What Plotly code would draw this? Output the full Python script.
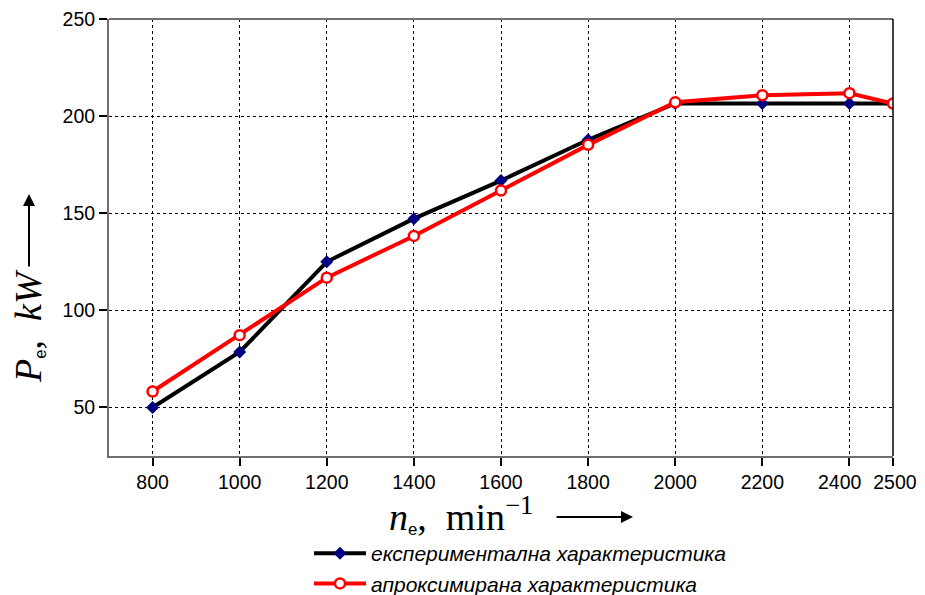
import plotly.graph_objects as go

n_rpm = [800, 1000, 1200, 1400, 1600, 1800, 2000, 2200, 2400, 2500]
p_exp = [50, 78.6, 125, 147.2, 166.8, 187.8, 206.5, 206.5, 206.5, 206.5]
p_apr = [58.2, 87.2, 116.8, 138.3, 161.7, 185.2, 207.1, 210.8, 211.8, 206.5]
x_ticks = [800, 1000, 1200, 1400, 1600, 1800, 2000, 2200, 2400, 2500]
y_ticks = [50, 100, 150, 200, 250]
names = ["експериментална характеристика", "апроксимирана характеристика"]

# page offset (browser body margin)
OFF = 8
# target plot area in screen pixels
L, R, T, B = 109, 893, 19, 456
W, H = 925 - OFF, 595 - OFF

def px(x):
    return (x - L) / (R - L)

def py(y):
    return (B - y) / (B - T)

# last two tick labels nudged apart (as in the reference) via padding spaces
x_ticktext = [str(v) for v in x_ticks]
x_ticktext[-2] = x_ticktext[-2] + "\u2003"
x_ticktext[-1] = "\u2009" + x_ticktext[-1]

fig = go.Figure()
fig.add_trace(go.Scatter(
    x=n_rpm, y=p_exp, name=names[0], mode="lines+markers",
    line=dict(color="black", width=4),
    marker=dict(symbol="diamond", size=10, color="#000080", line=dict(width=0)),
))
fig.add_trace(go.Scatter(
    x=n_rpm, y=p_apr, name=names[1], mode="lines+markers",
    line=dict(color="#ff0000", width=4),
    marker=dict(symbol="circle", size=10, color="white", line=dict(width=2.5, color="#ff0000")),
))

tickfont = dict(family="Arial, Liberation Sans, sans-serif", size=19.5, color="black")
fig.update_xaxes(
    range=[700, 2500], tickvals=x_ticks, ticktext=x_ticktext,
    tickangle=0, ticklabeloverflow="allow",
    showgrid=True, gridcolor="black", griddash="dot", gridwidth=1,
    showline=True, linecolor="#707070", linewidth=2,
    ticks="outside", ticklen=8, tickwidth=2, tickcolor="black",
    tickfont=tickfont, zeroline=False,
)
fig.update_yaxes(
    range=[25, 250], tickvals=y_ticks, ticklabeloverflow="allow",
    showgrid=True, gridcolor="black", griddash="dot", gridwidth=1,
    showline=True, linecolor="#707070", linewidth=2,
    ticks="outside", ticklen=8, tickwidth=2, tickcolor="black",
    tickfont=tickfont, zeroline=False,
)

# frame: top gray, right black
fig.add_shape(type="line", xref="paper", yref="paper", x0=0, x1=1, y0=1, y1=1,
              line=dict(color="#707070", width=2))
fig.add_shape(type="line", xref="paper", yref="paper", x0=1, x1=1, y0=0, y1=1,
              line=dict(color="black", width=1.5))

serif = "Times New Roman, Liberation Serif, serif"
sub_e = "<span style='font-family:Arial, Liberation Sans;font-size:24px'><sub>e</sub></span>"
# y title
fig.add_annotation(
    xref="paper", yref="paper", x=px(28), y=py(326), textangle=-90,
    text="<i>P</i>" + sub_e + ",  <i>kW</i>",
    showarrow=False, font=dict(family=serif, size=38, color="black"),
    xanchor="center", yanchor="middle",
)
fig.add_annotation(
    xref="paper", yref="paper", x=px(29), y=py(194), ax=0, ay=74,
    text="", showarrow=True, arrowhead=2, arrowsize=1.2, arrowwidth=2, arrowcolor="black",
)
# x title
fig.add_annotation(
    xref="paper", yref="paper", x=px(461), y=py(515),
    text="<i>n</i>" + sub_e + ",  min<sup>−1</sup>",
    showarrow=False, font=dict(family=serif, size=38, color="black"),
    xanchor="center", yanchor="middle",
)
fig.add_annotation(
    xref="paper", yref="paper", x=px(633), y=py(517), ax=-78, ay=0,
    text="", showarrow=True, arrowhead=2, arrowsize=1.2, arrowwidth=2, arrowcolor="black",
)

fig.update_layout(
    width=W, height=H,
    margin=dict(l=L - OFF, r=925 - R, t=T - OFF, b=595 - B, autoexpand=False),
    paper_bgcolor="white", plot_bgcolor="white",
    showlegend=True,
    legend=dict(
        x=px(309), y=py(533), xanchor="left", yanchor="top",
        font=dict(family="Arial, Liberation Sans, sans-serif", size=21, color="black", style="italic"),
        bgcolor="rgba(0,0,0,0)", itemwidth=52, tracegroupgap=4,
    ),
)

fig.write_html("out.html")
